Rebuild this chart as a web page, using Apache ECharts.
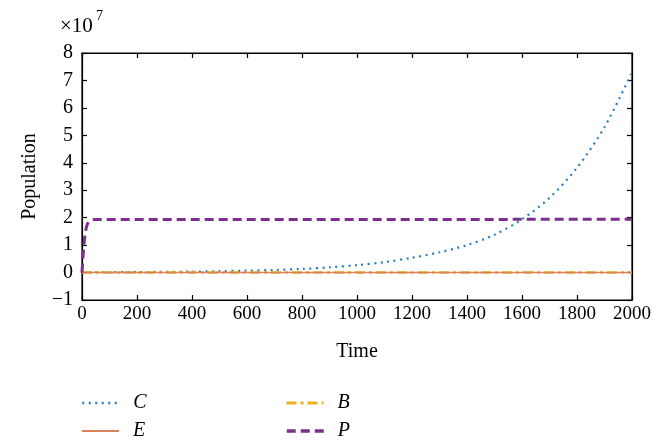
<!DOCTYPE html>
<html>
<head>
<meta charset="utf-8">
<script src="https://cdn.jsdelivr.net/npm/echarts@6/dist/echarts.min.js"></script>
<style>
  html, body { margin: 0; padding: 0; background: #fff; }
  #chart { width: 665px; height: 447px; }
</style>
</head>
<body>
<div id="chart"></div>
<script>
  // values in units of 1e7
  const timeC = [0, 100, 200, 300, 400, 500, 600, 700, 800, 900, 1000, 1100, 1200, 1300, 1400, 1500, 1600, 1700, 1800, 1900, 2000];
  const valuesC = [0.01, 0.012, 0.018, 0.025, 0.035, 0.05, 0.07, 0.095, 0.13, 0.19, 0.27, 0.38, 0.54, 0.74, 1.0, 1.38, 1.94, 2.72, 3.82, 5.3, 7.3];
  const timeP = [0, 3, 6, 9, 12, 16, 20, 25, 30, 40, 50, 2000];
  const valuesP = [0, 0.5, 0.9, 1.2, 1.45, 1.65, 1.78, 1.86, 1.9, 1.92, 1.93, 1.94];
  const timeFlat = [0, 2000];
  const valuesE = [0, 0];
  const valuesB = [0, 0];
  const scale = 1e7;

  const pairs = (xs, ys) => xs.map((x, i) => [x, ys[i] * scale]);

  const font = 'Liberation Serif';
  const chart = echarts.init(document.getElementById('chart'));

  const yLabel = (v) => {
    const n = Math.round(v / scale);
    return n < 0 ? '\u2212' + Math.abs(n) : String(n);
  };

  const baseX = {
    type: 'value',
    min: 0,
    max: 2000,
    interval: 200,
    axisLine: { show: true, onZero: false, lineStyle: { color: '#000', width: 1.2 } },
    axisTick: { show: true, inside: true, length: 5, lineStyle: { color: '#000', width: 1.2 } },
    splitLine: { show: false },
  };
  const baseY = {
    type: 'value',
    min: -1 * scale,
    max: 8 * scale,
    interval: scale,
    axisLine: { show: true, onZero: false, lineStyle: { color: '#000', width: 1.2 } },
    axisTick: { show: true, inside: true, length: 5, lineStyle: { color: '#000', width: 1.2 } },
    splitLine: { show: false },
  };

  const legendText = { color: '#000', fontFamily: font, fontSize: 20, fontStyle: 'italic', padding: [0, 0, 0, 9] };
  const makeLegend = (name, left, top, width) => ({
    data: [name],
    left: left,
    top: top,
    padding: 0,
    itemWidth: 37,
    itemHeight: 14,
    itemStyle: { opacity: 0 },
    lineStyle: { width: width },
    textStyle: legendText,
  });

  const option = {
    animation: false,
    grid: { left: 82, right: 33, top: 53, bottom: 147, show: true, borderColor: '#000', borderWidth: 1.2, backgroundColor: 'transparent' },
    xAxis: [
      {
        ...baseX,
        position: 'bottom',
        axisLabel: { color: '#000', fontFamily: font, fontSize: 19, margin: 5, formatter: (v) => String(v) },
        name: 'Time',
        nameLocation: 'middle',
        nameGap: 42,
        nameTextStyle: { color: '#000', fontFamily: font, fontSize: 20 },
      },
      { ...baseX, position: 'top', axisLabel: { show: false } },
    ],
    yAxis: [
      {
        ...baseY,
        position: 'left',
        axisLabel: { color: '#000', fontFamily: font, fontSize: 20, margin: 9, formatter: yLabel },
        name: 'Population',
        nameLocation: 'middle',
        nameGap: 42,
        nameTextStyle: { color: '#000', fontFamily: font, fontSize: 20 },
      },
      { ...baseY, position: 'right', axisLabel: { show: false } },
    ],
    legend: [
      makeLegend('C', 81, 393, 2.5),
      makeLegend('E', 81, 421, 2),
      makeLegend('B', 285, 393, 3),
      makeLegend('P', 285, 421, 3.5),
    ],
    graphic: [
      {
        type: 'text',
        left: 60,
        top: 16,
        style: { text: '\u00d710', font: '21px "Liberation Serif"', fill: '#000' },
      },
      {
        type: 'text',
        left: 96,
        top: 9,
        style: { text: '7', font: '14px "Liberation Serif"', fill: '#000' },
      },
    ],
    series: [
      {
        name: 'C',
        type: 'line',
        data: pairs(timeC, valuesC),
        smooth: 0.3,
        symbol: 'none',
        lineStyle: { color: '#2a80bf', width: 2.2, type: [2, 4.5] },
        itemStyle: { color: '#2a80bf' },
      },
      {
        name: 'B',
        type: 'line',
        data: pairs(timeFlat, valuesB),
        symbol: 'none',
        lineStyle: { color: '#edb120', width: 2.5, type: [10, 4, 3, 4] },
        itemStyle: { color: '#edb120' },
      },
      {
        name: 'E',
        type: 'line',
        data: pairs(timeFlat, valuesE),
        symbol: 'none',
        lineStyle: { color: '#d9825b', width: 1.5 },
        itemStyle: { color: '#d9825b' },
      },
      {
        name: 'P',
        type: 'line',
        data: pairs(timeP, valuesP),
        symbol: 'none',
        lineStyle: { color: '#7e2f8e', width: 3, type: [9, 5] },
        itemStyle: { color: '#7e2f8e' },
      },
      // empty series that keep the top and right axes drawn
      { type: 'line', xAxisIndex: 1, yAxisIndex: 1, data: [], silent: true },
    ],
  };

  chart.setOption(option);
</script>
</body>
</html>
